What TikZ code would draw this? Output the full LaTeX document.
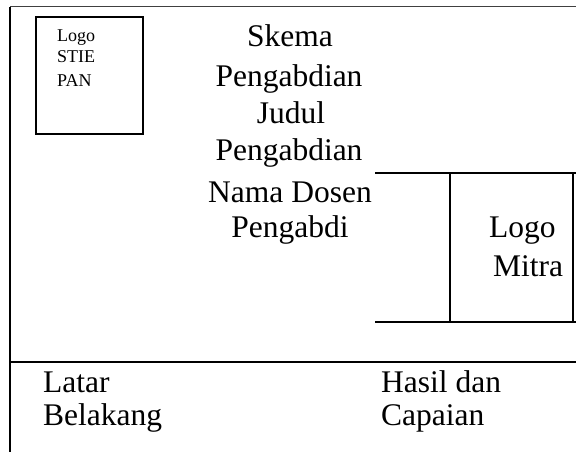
\documentclass[tikz,border=0pt]{standalone}
\usepackage{fontspec}
\setmainfont{Liberation Serif}
\begin{document}
\begin{tikzpicture}[x=1pt,y=-1pt,
  thick line/.style={line width=2.7pt,black},
  big/.style={font=\fontsize{31.5}{36}\selectfont,anchor=base,inner sep=0pt},
  bigl/.style={big,anchor=base west},
  small/.style={font=\fontsize{18}{21}\selectfont,anchor=base west,inner sep=0pt}]
\useasboundingbox (0,0) rectangle (576,452);
% frame
\draw[line width=1pt,black!75] (10,7) -- (576,7);
\draw[line width=1.8pt] (10,7) -- (10,452);
% logo stie box
\draw[line width=2.2pt] (36,17) rectangle (143,134);
\node[small] (l1) at (57,42) {Logo};
\node[small] (l2) at (57,63) {STIE};
\node[small] (l3) at (57,87) {PAN};
% middle text
\node[big] (m1) at (290,47) {Skema};
\node[big] (m2) at (289,86) {Pengabdian};
\node[big] (m3) at (291,123) {Judul};
\node[big] (m4) at (289,160) {Pengabdian};
\node[big] (m5) at (290,202) {Nama Dosen};
\node[big] (m6) at (290,237) {Pengabdi};
% right block
\coordinate (a1) at (375,173);
\coordinate (a2) at (576,173);
\coordinate (b1) at (375,322);
\coordinate (b2) at (576,322);
\coordinate (c1) at (450,173);
\coordinate (c2) at (450,322);
\coordinate (d1) at (573,173);
\coordinate (d2) at (573,322);
\draw[thick line] (a1) -- (a2);
\draw[thick line] (b1) -- (b2);
\draw[thick line] (c1) -- (c2);
\draw[thick line] (d1) -- (d2);
\node[bigl] (r1) at (489,237) {Logo};
\node[bigl] (r2) at (493,276) {Mitra};
% bottom
\coordinate (e1) at (10,362);
\coordinate (e2) at (576,362);
\draw[thick line] (e1) -- (e2);
\node[bigl] (t1) at (43,392) {Latar};
\node[bigl] (t2) at (43,425) {Belakang};
\node[bigl] (t3) at (381,392) {Hasil dan};
\node[bigl] (t4) at (381,425) {Capaian};
\end{tikzpicture}
\end{document}
